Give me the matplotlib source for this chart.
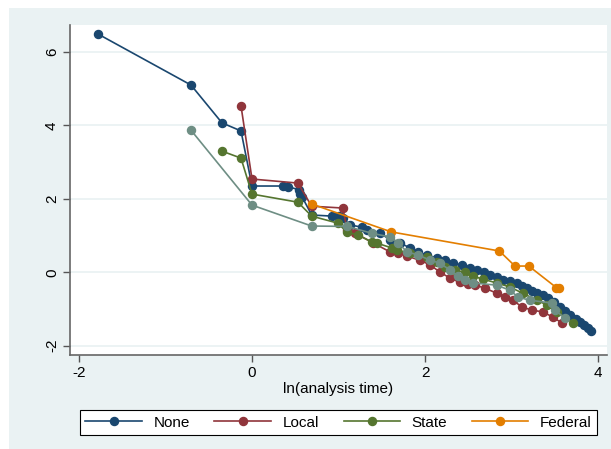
import matplotlib
matplotlib.use("Agg")
import matplotlib.pyplot as plt
from matplotlib.patches import Rectangle

plt.rcParams['font.family'] = ['Liberation Sans', 'DejaVu Sans']
plt.rcParams['axes.unicode_minus'] = False

# -ln(-ln(S)) against ln(analysis time), by group
none_x = [-1.78, -0.705, -0.347, -0.127, 0.0, 0.36, 0.42, 0.54, 0.56, 0.58,
          0.69, 0.93, 1.0, 1.05, 1.13, 1.27, 1.33, 1.48, 1.60, 1.71,
          1.83, 1.92, 2.02, 2.14, 2.23, 2.32, 2.43, 2.52, 2.60, 2.68,
          2.75, 2.83, 2.90, 2.98, 3.06, 3.12, 3.18, 3.24, 3.29, 3.36,
          3.42, 3.49, 3.56, 3.62, 3.68, 3.74, 3.79, 3.84, 3.88, 3.92]
none_y = [6.49, 5.10, 4.07, 3.85, 2.35, 2.35, 2.33, 2.25, 2.12, 2.05,
          1.56, 1.53, 1.53, 1.48, 1.29, 1.23, 1.15, 1.07, 0.88, 0.80,
          0.66, 0.55, 0.47, 0.39, 0.33, 0.25, 0.20, 0.13, 0.06, 0.0,
          -0.08, -0.14, -0.21, -0.25, -0.29, -0.36, -0.43, -0.50, -0.57, -0.63,
          -0.70, -0.82, -0.95, -1.06, -1.17, -1.27, -1.36, -1.44, -1.52, -1.60]

local_x = [-0.127, 0.0, 0.53, 0.69, 1.05, 1.10, 1.19, 1.40, 1.60, 1.69,
           1.79, 1.94, 2.06, 2.17, 2.29, 2.40, 2.50, 2.58, 2.69, 2.83,
           2.92, 3.02, 3.12, 3.24, 3.36, 3.48, 3.58]
local_y = [4.53, 2.54, 2.43, 1.80, 1.75, 1.15, 1.07, 0.80, 0.55, 0.52,
           0.44, 0.33, 0.20, 0.01, -0.16, -0.27, -0.31, -0.35, -0.43, -0.57,
           -0.68, -0.76, -0.95, -1.03, -1.08, -1.22, -1.38]

state_x = [-0.347, -0.127, 0.0, 0.53, 0.69, 0.99, 1.10, 1.23, 1.39, 1.45,
           1.62, 1.68, 1.83, 2.02, 2.14, 2.23, 2.35, 2.46, 2.55, 2.67,
           2.83, 2.98, 3.13, 3.29, 3.41, 3.53, 3.71]
state_y = [3.30, 3.11, 2.13, 1.91, 1.53, 1.34, 1.09, 1.01, 0.82, 0.79,
           0.66, 0.60, 0.52, 0.41, 0.28, 0.14, 0.06, 0.0, -0.10, -0.19,
           -0.29, -0.40, -0.57, -0.76, -0.89, -1.08, -1.38]

federal_x = [0.69, 1.61, 2.86, 3.04, 3.20, 3.52, 3.55]
federal_y = [1.86, 1.10, 0.58, 0.17, 0.17, -0.42, -0.44]

# fifth group, not shown in the legend
other_x = [-0.705, 0.0, 0.69, 1.10, 1.39, 1.60, 1.69, 1.79, 1.92, 2.06,
           2.17, 2.29, 2.38, 2.46, 2.55, 2.83, 2.98, 3.08, 3.21, 3.47,
           3.50, 3.62]
other_y = [3.87, 1.83, 1.26, 1.25, 1.06, 0.96, 0.80, 0.56, 0.47, 0.33,
           0.25, 0.06, -0.10, -0.21, -0.29, -0.35, -0.49, -0.68, -0.76, -0.84,
           -1.03, -1.25]

labels = ['None', 'Local', 'State', 'Federal']
colors = ['#1A476F', '#90353B', '#55752F', '#E37E00', '#6E8E84']

W, H = 611, 449
fig = plt.figure(figsize=(W / 100, H / 100), dpi=100, facecolor='white')
bg = Rectangle((9 / W, 0), 1 - 9 / W, 1 - 8 / H, transform=fig.transFigure,
               facecolor='#EAF2F3', edgecolor='none', zorder=-10)
fig.add_artist(bg)

ax = fig.add_axes([70 / W, (H - 355) / H, (607 - 70) / W, (355 - 25) / H])
ax.set_zorder(1)
ax.set_facecolor('white')

series = [(none_x, none_y), (local_x, local_y), (state_x, state_y),
          (federal_x, federal_y), (other_x, other_y)]
handles = []
for i, (xs, ys) in enumerate(series):
    h, = ax.plot(xs, ys, color=colors[i], lw=1.2, marker='o', ms=5.8,
                 mec=colors[i], mfc=colors[i], zorder=3 + i)
    handles.append(h)

ax.set_xlim(-2.104, 4.104)
ax.set_ylim(-2.253, 6.736)
ax.set_xticks([-2, 0, 2, 4])
ax.set_yticks([-2, 0, 2, 4, 6])
ax.set_yticklabels(['-2', '0', '2', '4', '6'], rotation=90, va='center')
ax.grid(axis='y', color='#EAF2F3', lw=1.3, zorder=1)
ax.grid(axis='x', visible=False)
ax.tick_params(axis='both', labelsize=11, length=5, width=1, color='#555555')
ax.tick_params(axis='y', pad=3)
ax.tick_params(axis='x', pad=3)
for s in ['top', 'right']:
    ax.spines[s].set_visible(False)
for s in ['left', 'bottom']:
    ax.spines[s].set_color('#666666')
    ax.spines[s].set_linewidth(1.2)
ax.set_xlabel('ln(analysis time)', fontsize=11, labelpad=1)

leg = fig.legend(handles[:4], labels, loc='lower left',
                 bbox_to_anchor=(80 / W, (H - 435) / H, (597 - 80) / W, 29 / H),
                 mode='expand', ncol=4, fontsize=11, frameon=True, fancybox=False,
                 handlelength=3.7, handletextpad=0.75, borderaxespad=0,
                 borderpad=0.35, columnspacing=1.0)
leg.get_frame().set_edgecolor('black')
leg.get_frame().set_linewidth(0.8)
leg.get_frame().set_facecolor('white')
leg.get_frame().set_alpha(1)

fig.savefig('out.png', dpi=100, facecolor='white')
